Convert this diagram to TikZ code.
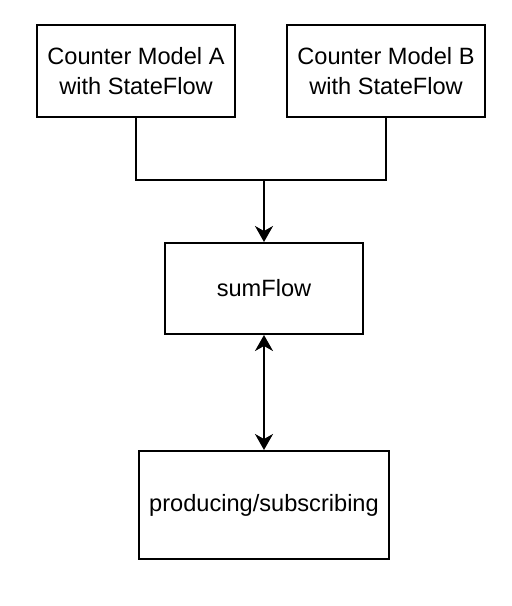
\documentclass[tikz,border=0pt]{standalone}
\usepackage{fontspec}
\setmainfont{Liberation Sans}
\usetikzlibrary{arrows.meta}

\begin{document}
\begin{tikzpicture}[
  x=1pt, y=-1pt,
  box/.style={rectangle, draw=black, line width=2pt, align=center,
              font=\fontsize{23.6}{30}\selectfont, inner sep=0pt},
  model/.style={box, minimum width=198pt, minimum height=92pt},
  flow/.style={-{Stealth[length=16pt, width=18pt, inset=5pt]}, draw=black, line width=2pt},
  both/.style={{Stealth[length=16pt, width=18pt, inset=5pt]}-{Stealth[length=16pt, width=18pt, inset=5pt]},
               draw=black, line width=2pt},
  link/.style={draw=black, line width=2pt}
]
\useasboundingbox (0,0) rectangle (512,606);
\node[model] (cntA) at (136,71)    {Counter Model A\\with StateFlow};
\node[model] (cntB) at (386,71)    {Counter Model B\\with StateFlow};
\node[box, minimum width=198pt, minimum height=91pt] (sum) at (264,288.5) {sumFlow};
\node[box, minimum width=250pt, minimum height=108pt] (pubsub) at (264,505) {producing/subscribing};
\coordinate (join) at (264,180);
\draw[link] (cntA.south) |- (join) -| (cntB.south);
\draw[flow] (join) -- (sum);
\draw[both] (sum) -- (pubsub);
\end{tikzpicture}
\end{document}
